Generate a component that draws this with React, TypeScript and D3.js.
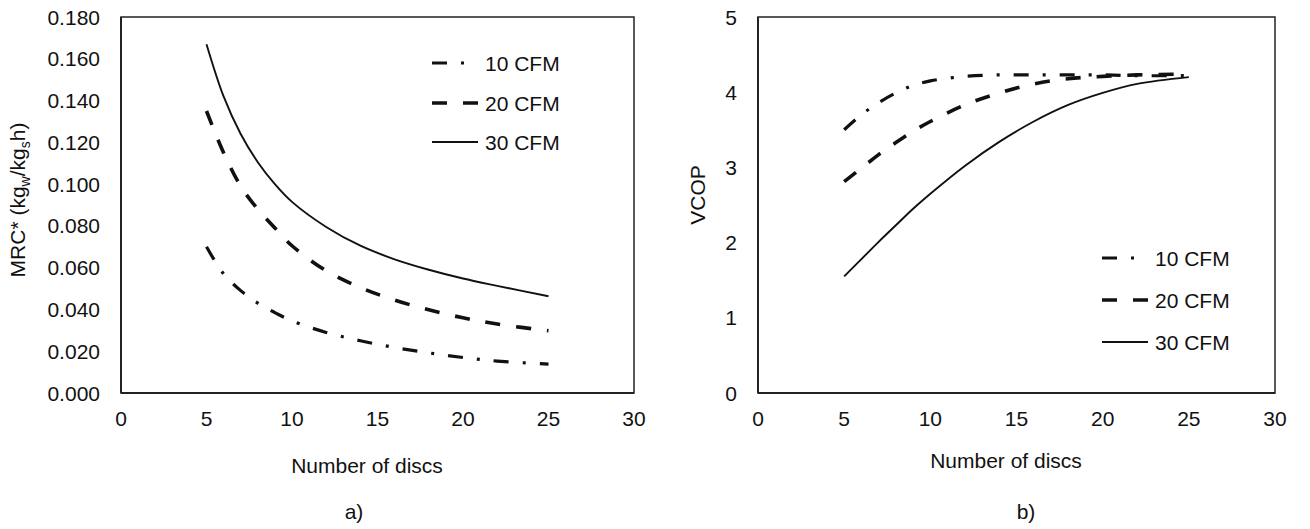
import React from "react";
import * as d3 from "d3";

const discs = [5, 6, 7, 8, 9, 10, 12, 14, 16, 18, 20, 22, 25];
const xTicks = [0, 5, 10, 15, 20, 25, 30];
const seriesNames = ["10 CFM", "20 CFM", "30 CFM"];

const mrc10 = [0.07, 0.057, 0.049, 0.043, 0.0385, 0.0345, 0.029, 0.025, 0.0218, 0.0192, 0.017, 0.0153, 0.0138];
const mrc20 = [0.135, 0.115, 0.099, 0.088, 0.079, 0.0705, 0.0585, 0.0505, 0.0445, 0.0398, 0.036, 0.033, 0.0298];
const mrc30 = [0.167, 0.142, 0.124, 0.1105, 0.1, 0.0915, 0.0795, 0.0705, 0.064, 0.059, 0.0548, 0.0513, 0.0463];
const mrcTicks = [0, 0.02, 0.04, 0.06, 0.08, 0.1, 0.12, 0.14, 0.16, 0.18];

const vcop10 = [3.5, 3.7, 3.86, 3.99, 4.09, 4.15, 4.21, 4.23, 4.23, 4.23, 4.23, 4.22, 4.22];
const vcop20 = [2.81, 2.99, 3.17, 3.33, 3.48, 3.61, 3.83, 3.99, 4.11, 4.18, 4.21, 4.23, 4.24];
const vcop30 = [1.55, 1.78, 2.01, 2.23, 2.45, 2.65, 3.02, 3.34, 3.61, 3.83, 3.99, 4.11, 4.2];
const vcopTicks = [0, 1, 2, 3, 4, 5];

const FONT = "'Liberation Sans', Arial, sans-serif";
const FS = 21;

const styles = [
  { dash: "15,14,3,14", width: 3.2 },
  { dash: "15,16", width: 3.6 },
  { dash: null as string | null, width: 1.9 },
];

type PanelProps = {
  x0: number; x1: number; y0: number; y1: number;
  yMax: number; yTicks: number[]; yFmt: (v: number) => string;
  series: number[][];
  yLabelX: number;
  yTitle: React.ReactNode; yTitleX: number; yTitleY: number;
  xTitleX: number; xTitleY: number;
  tag: string; tagX: number; tagY: number;
  legX: number; legYs: number[];
};

function Panel(p: PanelProps) {
  const x = d3.scaleLinear().domain([0, 30]).range([p.x0, p.x1]);
  const y = d3.scaleLinear().domain([0, p.yMax]).range([p.y1, p.y0]);
  const line = d3
    .line<[number, number]>()
    .x((d) => x(d[0]))
    .y((d) => y(d[1]))
    .curve(d3.curveCatmullRom.alpha(0.5));
  return (
    <g fontFamily={FONT} fontSize={FS} fill="#111">
      {p.series.map((vals, i) => (
        <path
          key={i}
          d={line(discs.map((dx, j) => [dx, vals[j]] as [number, number])) || ""}
          fill="none"
          stroke="#111"
          strokeWidth={styles[i].width}
          strokeDasharray={styles[i].dash || undefined}
        />
      ))}
      <rect x={p.x0} y={p.y0} width={p.x1 - p.x0} height={p.y1 - p.y0} fill="none" stroke="#222" strokeWidth={1.5} />
      <line x1={p.x0} x2={p.x0} y1={p.y0} y2={p.y1} stroke="#222" strokeWidth={2} />
      <line x1={p.x0} x2={p.x1} y1={p.y1} y2={p.y1} stroke="#222" strokeWidth={2.2} />
      {p.yTicks.map((t) => (
        <text key={t} x={p.yLabelX} y={y(t)} textAnchor="end" dy="0.36em">
          {p.yFmt(t)}
        </text>
      ))}
      {xTicks.map((t) => (
        <text key={t} x={x(t)} y={p.y1 + 25} textAnchor="middle" dy="0.36em">
          {t}
        </text>
      ))}
      <text x={p.xTitleX} y={p.xTitleY} textAnchor="middle" dy="0.36em">
        Number of discs
      </text>
      <text x={p.tagX} y={p.tagY} textAnchor="middle" dy="0.36em">
        {p.tag}
      </text>
      <text transform={`translate(${p.yTitleX},${p.yTitleY}) rotate(-90)`} textAnchor="middle">
        {p.yTitle}
      </text>
      {seriesNames.map((n, i) => (
        <g key={n}>
          <line
            x1={p.legX}
            x2={p.legX + 46}
            y1={p.legYs[i]}
            y2={p.legYs[i]}
            stroke="#111"
            strokeWidth={styles[i].width}
            strokeDasharray={styles[i].dash || undefined}
          />
          <text x={p.legX + 53} y={p.legYs[i]} dy="0.36em">
            {n}
          </text>
        </g>
      ))}
    </g>
  );
}

export default function App() {
  const fmt3 = d3.format(".3f");
  return (
    <svg
      width={1310}
      height={529}
      style={{ position: "absolute", left: 0, top: 0, background: "#fff" }}
    >
      <rect width={1310} height={529} fill="#fff" />
      <Panel
        x0={121} x1={634} y0={17} y1={393}
        yMax={0.18} yTicks={mrcTicks} yFmt={(v) => fmt3(v)}
        series={[mrc10, mrc20, mrc30]}
        yLabelX={100}
        yTitle={
          <>
            MRC* (kg<tspan fontSize={14} dy={5}>w</tspan>
            <tspan dy={-5}>/kg</tspan>
            <tspan fontSize={14} dy={5}>s</tspan>
            <tspan dy={-5}>h)</tspan>
          </>
        }
        yTitleX={25} yTitleY={200}
        xTitleX={367} xTitleY={465}
        tag="a)" tagX={354} tagY={511}
        legX={432} legYs={[63, 103, 142]}
      />
      <Panel
        x0={758} x1={1275} y0={17} y1={393}
        yMax={5} yTicks={vcopTicks} yFmt={(v) => String(v)}
        series={[vcop10, vcop20, vcop30]}
        yLabelX={737}
        yTitle={<>VCOP</>}
        yTitleX={705} yTitleY={195}
        xTitleX={1006} xTitleY={460}
        tag="b)" tagX={1026} tagY={511}
        legX={1102} legYs={[258, 300, 342]}
      />
    </svg>
  );
}
